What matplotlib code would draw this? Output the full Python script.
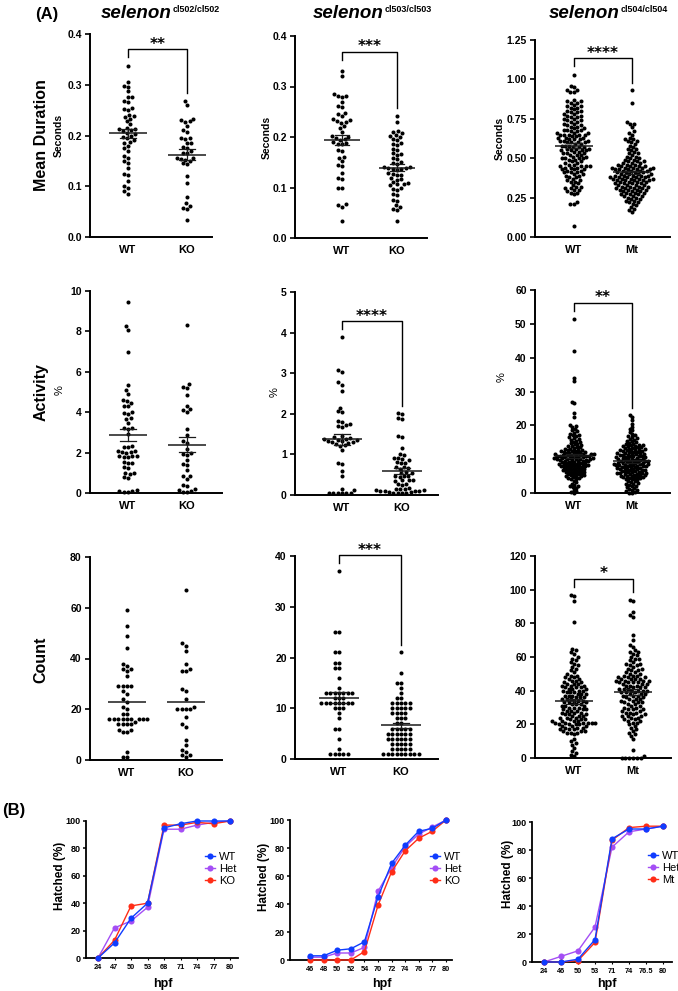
import numpy as np
import matplotlib
matplotlib.use("Agg")
import matplotlib.pyplot as plt
from matplotlib.lines import Line2D

plt.rcParams['font.family'] = ['Liberation Sans', 'DejaVu Sans']

W, H = 678, 991

# ---------------- data (A) ----------------
strains = ['cl502/cl502', 'cl503/cl503', 'cl504/cl504']
row_names = ['Mean Duration', 'Activity', 'Count']
groups_ko = ['WT', 'KO']
groups_mt = ['WT', 'Mt']

# mean duration (seconds)
dur_502_wt = [0.336, 0.305, 0.298, 0.296, 0.287, 0.276, 0.275, 0.268, 0.266, 0.255,
              0.253, 0.250, 0.240, 0.238, 0.236, 0.232, 0.228, 0.222, 0.215, 0.213,
              0.212, 0.210, 0.208, 0.205, 0.203, 0.200, 0.198, 0.195, 0.192, 0.188,
              0.185, 0.180, 0.175, 0.170, 0.160, 0.155, 0.150, 0.145, 0.135, 0.125,
              0.122, 0.110, 0.100, 0.097, 0.090, 0.085]
dur_502_ko = [0.268, 0.260, 0.232, 0.230, 0.228, 0.226, 0.218, 0.210, 0.207, 0.196,
              0.195, 0.193, 0.186, 0.185, 0.178, 0.176, 0.170, 0.166, 0.165, 0.156,
              0.155, 0.154, 0.152, 0.150, 0.145, 0.143, 0.120, 0.107, 0.078, 0.067,
              0.062, 0.058, 0.055, 0.034]
dur_503_wt = [0.331, 0.320, 0.286, 0.282, 0.281, 0.280, 0.270, 0.262, 0.260, 0.248,
              0.245, 0.242, 0.235, 0.233, 0.232, 0.230, 0.228, 0.222, 0.218, 0.210,
              0.202, 0.200, 0.198, 0.196, 0.194, 0.190, 0.188, 0.187, 0.186, 0.175,
              0.172, 0.160, 0.158, 0.152, 0.145, 0.143, 0.128, 0.118, 0.116, 0.100,
              0.099, 0.067, 0.065, 0.062, 0.034]
dur_503_ko = [0.242, 0.230, 0.212, 0.210, 0.208, 0.204, 0.202, 0.200, 0.196, 0.194,
              0.188, 0.186, 0.184, 0.177, 0.175, 0.168, 0.166, 0.165, 0.158, 0.156,
              0.150, 0.148, 0.146, 0.141, 0.140, 0.139, 0.138, 0.137, 0.136, 0.135,
              0.128, 0.127, 0.125, 0.124, 0.118, 0.116, 0.115, 0.110, 0.108, 0.107,
              0.106, 0.104, 0.100, 0.098, 0.096, 0.088, 0.086, 0.076, 0.074, 0.066,
              0.062, 0.057, 0.055, 0.033]
dur_504_wt = [1.03, 0.96, 0.95, 0.93, 0.93, 0.92, 0.92, 0.87, 0.86, 0.86, 0.85, 0.85,
              0.84, 0.83, 0.83, 0.82, 0.82, 0.81, 0.80, 0.80,
              0.79, 0.79, 0.78, 0.78, 0.77, 0.77, 0.76, 0.76, 0.75, 0.75,
              0.74, 0.74, 0.73, 0.73, 0.72, 0.72, 0.71, 0.71, 0.70, 0.70,
              0.69, 0.69, 0.68, 0.68, 0.68, 0.67, 0.67, 0.66, 0.66, 0.66, 0.65, 0.65, 0.65, 0.65, 0.65,
              0.64, 0.64, 0.63, 0.63, 0.63, 0.62, 0.62, 0.62, 0.61, 0.61, 0.61, 0.60, 0.60, 0.60, 0.60,
              0.59, 0.59, 0.58, 0.58, 0.58, 0.57, 0.57, 0.57, 0.56, 0.56, 0.56, 0.55, 0.55, 0.55, 0.55,
              0.54, 0.54, 0.53, 0.53, 0.53, 0.52, 0.52, 0.52, 0.51, 0.51, 0.50, 0.50, 0.50, 0.50,
              0.49, 0.49, 0.48, 0.48, 0.47, 0.47, 0.46, 0.46, 0.45, 0.45, 0.45, 0.45,
              0.44, 0.44, 0.44, 0.43, 0.43, 0.43, 0.42, 0.42, 0.41, 0.41, 0.41, 0.40, 0.40,
              0.39, 0.39, 0.38, 0.38, 0.37, 0.36, 0.36, 0.35, 0.35,
              0.34, 0.33, 0.32, 0.32, 0.31, 0.31, 0.30, 0.30,
              0.29, 0.28, 0.28, 0.27, 0.22, 0.21, 0.21, 0.07]
dur_504_mt = [0.93, 0.85, 0.73, 0.72, 0.72, 0.70, 0.67, 0.66, 0.65,
              0.63, 0.62, 0.62, 0.61, 0.61, 0.60, 0.59, 0.58, 0.57, 0.56, 0.56, 0.55,
              0.54, 0.53, 0.53, 0.52, 0.51, 0.51, 0.50, 0.50,
              0.49, 0.49, 0.48, 0.48, 0.48, 0.47, 0.47, 0.47, 0.46, 0.46, 0.46,
              0.45, 0.45, 0.45, 0.45,
              0.44, 0.44, 0.44, 0.44, 0.44, 0.43, 0.43, 0.43, 0.43, 0.43,
              0.42, 0.42, 0.42, 0.42, 0.41, 0.41, 0.41, 0.41, 0.40, 0.40, 0.40, 0.40,
              0.39, 0.39, 0.39, 0.39, 0.39, 0.38, 0.38, 0.38, 0.38, 0.38,
              0.37, 0.37, 0.37, 0.37, 0.37, 0.36, 0.36, 0.36, 0.36, 0.36,
              0.35, 0.35, 0.35, 0.35,
              0.34, 0.34, 0.34, 0.34, 0.33, 0.33, 0.33, 0.33, 0.32, 0.32, 0.32, 0.32,
              0.31, 0.31, 0.31, 0.31, 0.30, 0.30, 0.30, 0.30,
              0.29, 0.29, 0.29, 0.28, 0.28, 0.28, 0.27, 0.27, 0.27, 0.26, 0.26, 0.26,
              0.25, 0.25, 0.24, 0.24, 0.23, 0.23, 0.22, 0.22, 0.21, 0.20,
              0.19, 0.18, 0.17, 0.16]

# activity (%)
act_502_wt = [9.45, 8.25, 8.05, 7.0, 5.35, 5.1, 4.9, 4.6, 4.55, 4.45, 4.3, 4.3, 4.0, 3.95,
              3.9, 3.7, 3.65, 3.45, 3.2, 3.2, 3.15, 2.9, 2.35, 2.3, 2.3, 2.1, 2.1, 2.05,
              2.05, 2.0, 1.85, 1.85, 1.85, 1.8, 1.8, 1.55, 1.5, 1.5, 1.3, 1.25, 1.0, 1.0,
              0.95, 0.8, 0.75, 0.15, 0.1, 0.1, 0.05, 0.05]
act_502_ko = [8.3, 5.4, 5.25, 5.2, 4.85, 4.3, 4.15, 4.12, 4.0, 3.15, 2.85, 2.55, 2.5, 2.2,
              2.0, 1.95, 1.9, 1.65, 1.45, 1.4, 1.15, 0.85, 0.82, 0.7, 0.4, 0.35, 0.18,
              0.15, 0.1, 0.05, 0.05]
act_503_wt = [3.88, 3.07, 3.02, 2.78, 2.72, 2.57, 2.15, 2.06, 2.05, 1.82, 1.8, 1.75, 1.73,
              1.7, 1.67, 1.45, 1.42, 1.4, 1.38, 1.37, 1.36, 1.35, 1.34, 1.33, 1.3, 1.3,
              1.28, 1.25, 1.22, 1.2, 1.1, 0.8, 0.77, 0.6, 0.47, 0.15, 0.12, 0.06, 0.05,
              0.05, 0.05, 0.04, 0.04]
act_503_ko = [2.01, 1.99, 1.9, 1.87, 1.45, 1.42, 1.15, 1.02, 0.98, 0.92, 0.9, 0.88, 0.87,
              0.82, 0.8, 0.78, 0.7, 0.68, 0.66, 0.65, 0.57, 0.55, 0.53, 0.48, 0.47, 0.46,
              0.45, 0.38, 0.37, 0.36, 0.35, 0.28, 0.27, 0.25, 0.17, 0.16, 0.15, 0.14,
              0.13, 0.12, 0.11, 0.1, 0.1, 0.09, 0.08, 0.07, 0.06, 0.05, 0.05, 0.04]
act_504_wt = [51.5, 42.0, 34.0, 33.0, 27.0, 26.5, 23.5, 22.5,
              20.0, 19.8, 19.5, 19.0, 18.5, 18.2,
              17.8, 17.5, 17.2, 17.0, 16.8, 16.5, 16.2, 16.0, 15.8, 15.5, 15.2, 15.0,
              14.8, 14.6, 14.4, 14.2, 14.0, 13.8, 13.6, 13.5, 13.3, 13.1, 13.0, 12.8,
              12.7, 12.6, 12.5, 12.4, 12.3, 12.2, 12.1, 12.0,
              11.9, 11.8, 11.8, 11.7, 11.6, 11.5, 11.5, 11.4, 11.3, 11.2, 11.2, 11.1,
              11.0, 11.0, 10.9, 10.8, 10.8, 10.7, 10.6, 10.5, 10.5, 10.4, 10.3, 10.3,
              10.2, 10.1, 10.1, 10.0, 10.0, 10.0,
              9.9, 9.8, 9.7, 9.6, 9.5, 9.5, 9.4, 9.3, 9.2, 9.1, 9.0, 9.0, 8.9, 8.8,
              8.7, 8.6, 8.5, 8.5, 8.4, 8.3, 8.2, 8.2, 8.1, 8.0, 8.0,
              7.9, 7.8, 7.7, 7.6, 7.5, 7.4, 7.3, 7.2, 7.1, 7.0, 6.9, 6.8, 6.7, 6.6,
              6.5, 6.4, 6.3, 6.2, 6.1, 6.0,
              5.9, 5.7, 5.6, 5.5, 5.3, 5.2, 5.1, 5.0, 4.9, 4.7, 4.5, 4.4, 4.2, 4.0,
              3.6, 3.2, 2.8, 2.5, 2.2, 2.0, 1.8, 1.5, 1.0, 0.6, 0.3, 0.1]
act_504_mt = [23.0, 22.5, 21.5, 20.5, 19.5, 19.0, 18.5, 18.0, 17.5, 17.0,
              16.8, 16.5, 16.2, 16.0, 15.8, 15.5, 15.3, 15.0, 14.8, 14.6, 14.5, 14.3,
              14.2, 14.1, 14.0,
              13.9, 13.8, 13.6, 13.5, 13.4, 13.2, 13.1, 13.0, 12.9, 12.8, 12.7, 12.6,
              12.5, 12.4, 12.3, 12.2, 12.1, 12.0,
              11.9, 11.8, 11.7, 11.6, 11.5, 11.4, 11.3, 11.2, 11.1, 11.0, 11.0, 10.9,
              10.8, 10.7, 10.6, 10.5, 10.4, 10.3, 10.2, 10.1, 10.0, 10.0,
              9.9, 9.8, 9.7, 9.6, 9.5, 9.5, 9.4, 9.3, 9.2, 9.1, 9.0, 9.0, 8.9, 8.8,
              8.7, 8.6, 8.5, 8.5, 8.4, 8.3, 8.2, 8.2, 8.1, 8.0, 8.0,
              7.9, 7.8, 7.7, 7.6, 7.5, 7.4, 7.3, 7.2, 7.1, 7.0, 7.0, 6.9, 6.8, 6.7,
              6.6, 6.5, 6.4, 6.3, 6.2, 6.1, 6.0, 6.0,
              5.9, 5.8, 5.7, 5.6, 5.5, 5.4, 5.3, 5.2, 5.1, 5.0, 4.9, 4.8, 4.7, 4.6,
              4.5, 4.4, 4.3, 4.1, 4.0,
              3.9, 3.6, 3.4, 3.2, 3.0, 2.8, 2.6, 2.4, 2.2, 2.0,
              1.8, 1.5, 1.2, 1.0, 0.8, 0.5, 0.3, 0.1, 0.0]

# count
cnt_502_wt = [59, 53, 49, 44, 38, 37, 36, 36, 35, 33, 29, 29, 29, 29, 27, 26, 24, 23, 21,
              20, 18, 18, 16, 16, 16, 16, 16, 16, 16, 16, 16, 15, 14, 14, 14, 14, 12, 12,
              11, 11, 3, 1, 1]
cnt_502_ko = [67, 46, 45, 43, 38, 36, 35, 35, 28, 27, 24, 21, 20, 20, 20, 20, 17, 14, 13,
              8, 6, 4, 3, 2, 2, 1]
cnt_503_wt = [37, 25, 25, 21, 21, 19, 19, 18, 18, 16, 14, 13, 13, 13, 13, 13, 13, 13,
              12, 12, 12, 11, 11, 11, 11, 11, 11, 11, 11, 10, 10, 10, 9, 8, 6, 6, 4, 2,
              1, 1, 1, 1, 1]
cnt_503_ko = [21, 17, 15, 15, 14, 13, 12, 12, 11, 11, 11, 11, 11, 10, 10, 10, 10, 10,
              9, 9, 9, 9, 8, 8, 8, 7, 7, 6, 6, 6, 6, 6, 5, 5, 5, 5, 5, 5, 4, 4, 4, 4, 4, 4,
              3, 3, 3, 3, 3, 2, 2, 2, 2, 2, 1, 1, 1, 1, 1, 1, 1, 1, 1]
cnt_504_wt = [97, 96, 93, 81, 65, 64, 63, 62, 60,
              59, 58, 57, 56, 55, 54, 53, 52, 51, 50,
              49, 49, 48, 48, 47, 47, 46, 46, 45, 45, 44, 44, 44, 43, 43, 43, 42, 42, 42,
              41, 41, 41, 40, 40, 40,
              39, 39, 39, 38, 38, 38, 37, 37, 37, 36, 36, 36, 35, 35, 35, 34, 34, 34,
              33, 33, 33, 32, 32, 32, 31, 31, 31, 30, 30, 30,
              29, 29, 29, 28, 28, 28, 27, 27, 27, 26, 26, 26, 25, 25, 25, 24, 24, 24,
              23, 23, 23, 22, 22, 22, 22, 21, 21, 21, 21, 21, 21, 20, 20, 20, 20,
              19, 19, 19, 18, 18, 18, 17, 17, 17, 16, 16, 16, 15, 15, 15,
              14, 11, 10, 9, 8, 6, 4, 3, 2, 1]
cnt_504_mt = [94, 93, 87, 85, 84, 73, 70, 67, 66, 64, 63, 63, 62, 61,
              60, 59, 59, 58, 57, 56, 56, 55, 55, 54, 53, 53, 52, 52, 51, 51, 50, 50,
              49, 49, 49, 48, 48, 48, 47, 47, 47, 47, 46, 46, 46, 46, 45, 45, 45, 45,
              44, 44, 44, 43, 43, 43, 42, 42, 42, 41, 41, 41, 40, 40, 40, 40,
              39, 39, 39, 38, 38, 38, 37, 37, 37, 36, 36, 35, 35, 35, 34, 34, 33, 33, 33,
              32, 32, 31, 31, 30, 30,
              29, 29, 29, 28, 28, 27, 27, 27, 26, 26, 25, 25, 25, 24, 24, 23, 23, 22, 22,
              21, 21, 20,
              19, 18, 17, 16, 15, 14, 13, 11, 5, 1, 0, 0, 0, 0, 0, 0]

# ---------------- data (B) ----------------
hpf_502 = ['24', '47', '50', '53', '68', '71', '74', '77', '80']
hatch_502_wt = [0, 11, 29, 40, 95, 98, 100, 100, 100]
hatch_502_het = [0, 22, 27, 37, 94, 94, 97, 99, 100]
hatch_502_ko = [0, 13, 38, 40, 97, 97, 99, 98, 100]

hpf_503 = ['46', '48', '50', '52', '54', '70', '72', '74', '76', '77', '80']
hatch_503_wt = [3, 3, 7, 8, 13, 45, 69, 82, 92, 94, 100]
hatch_503_het = [2, 2, 5, 5, 9, 49, 66, 81, 90, 95, 100]
hatch_503_ko = [0, 0, 0, 0, 6, 39, 63, 78, 87, 92, 100]

hpf_504 = ['24', '46', '50', '53', '71', '74', '76.5', '80']
hatch_504_wt = [0, 0, 2, 16, 88, 95, 95, 97]
hatch_504_het = [0, 4, 8, 25, 82, 93, 95, 97]
hatch_504_mt = [0, 0, 1, 14, 87, 96, 97, 97]

# ---------------- helpers ----------------
fig = plt.figure(figsize=(W / 100, H / 100), dpi=100)


def add_px_axes(l, t, r, b):
    return fig.add_axes([l / W, 1 - b / H, (r - l) / W, (b - t) / H])


def swarm(ypix, d):
    n = len(ypix)
    order = np.argsort(ypix, kind='stable')
    xs = np.zeros(n)
    done = []
    for i in order:
        y = ypix[i]
        near = [(xs[j], ypix[j]) for j in done if abs(ypix[j] - y) < d]
        cands = [0.0]
        for xj, yj in near:
            dx = np.sqrt(d * d - (yj - y) ** 2)
            cands.extend([xj + dx, xj - dx])
        cands.sort(key=lambda c: (abs(c), c))
        for c in cands:
            if all((c - xj) ** 2 + (y - yj) ** 2 >= d * d - 1e-3 for xj, yj in near):
                xs[i] = c
                break
        done.append(i)
    return xs


def style_axes(ax, lw=1.3):
    for s in ['top', 'right']:
        ax.spines[s].set_visible(False)
    for s in ['left', 'bottom']:
        ax.spines[s].set_linewidth(lw)
    ax.patch.set_alpha(0)


def fig_text(x, y, s, **kw):
    fig.text(x / W, 1 - y / H, s, **kw)


# pixel layout of A panels: left, top, right, bottom, x of group 1, x of group 2
A_BOX = {
    (0, 0): (90, 34, 212, 237, 128, 187),
    (0, 1): (295, 36, 427, 238, 342, 397),
    (0, 2): (535, 40, 670, 237, 574, 632),
    (1, 0): (90, 291, 222, 493, 128, 187),
    (1, 1): (295, 292, 438, 495, 342, 402),
    (1, 2): (535, 290, 670, 493, 574, 632),
    (2, 0): (90, 557, 222, 760, 127, 186),
    (2, 1): (295, 556, 438, 759, 339, 401),
    (2, 2): (535, 556, 671, 758, 574, 633),
}

# row, col, series, group names, ymax, tick step, decimals, stars, bracket top, dot spacing, sem
A_PANELS = [
    (0, 0, [dur_502_wt, dur_502_ko], groups_ko, 0.4, 0.1, 1, '**', 0.370, 4.4, True),
    (0, 1, [dur_503_wt, dur_503_ko], groups_ko, 0.4, 0.1, 1, '***', 0.368, 4.4, True),
    (0, 2, [dur_504_wt, dur_504_mt], groups_mt, 1.25, 0.25, 2, '****', 1.134, 3.7, True),
    (1, 0, [act_502_wt, act_502_ko], groups_ko, 10, 2, 0, None, None, 4.4, True),
    (1, 1, [act_503_wt, act_503_ko], groups_ko, 5, 1, 0, '****', 4.28, 4.4, True),
    (1, 2, [act_504_wt, act_504_mt], groups_mt, 60, 10, 0, '**', 56.3, 3.0, True),
    (2, 0, [cnt_502_wt, cnt_502_ko], groups_ko, 80, 20, 0, None, None, 4.4, False),
    (2, 1, [cnt_503_wt, cnt_503_ko], groups_ko, 40, 10, 0, '***', 40.1, 4.4, True),
    (2, 2, [cnt_504_wt, cnt_504_mt], groups_mt, 120, 20, 0, '*', 106.5, 3.8, True),
]

for row, col, series, names, ymax, step, dec, stars, btop, d, sem in A_PANELS:
    l, t, r, b, xw, xk = A_BOX[(row, col)]
    u = xk - xw
    ax = add_px_axes(l, t, r, b)
    style_axes(ax, 1.4)
    ax.set_xlim(1 - (xw - l) / u, 2 + (r - xk) / u)
    ax.set_ylim(0, ymax)
    ppu = (b - t) / ymax  # pixels per data unit
    for i, vals in enumerate(series):
        v = np.asarray(vals, float)
        c = i + 1
        off = swarm(v * ppu, d)
        ax.scatter(c + off / u, v, s=8.5, c='black', linewidths=0,
                   clip_on=False, zorder=2)
        m = v.mean()
        ax.plot([c - 0.33, c + 0.33], [m, m], color='#1a1a1a', lw=1.1,
                zorder=3, solid_capstyle='butt')
        if sem:
            se = v.std(ddof=1) / np.sqrt(len(v))
            ax.plot([c, c], [m - se, m + se], color='#1a1a1a', lw=0.9, zorder=3)
            for yy in (m - se, m + se):
                ax.plot([c - 0.13, c + 0.13], [yy, yy], color='#1a1a1a',
                        lw=0.9, zorder=3)
    if stars:
        second_max = max(series[1])
        wt_leg = btop - 8 / ppu
        k_leg = second_max + 7.5 / ppu
        ax.plot([1, 1, 2, 2], [wt_leg, btop, btop, k_leg], color='black',
                lw=1.0, clip_on=False, zorder=3)
        ax.annotate(stars, xy=(1.5, btop), xytext=(0, 0.5),
                    textcoords='offset points', ha='center', va='baseline',
                    fontsize=11, fontweight='bold', family='DejaVu Sans',
                    annotation_clip=False)
    ticks = np.arange(0, ymax + step / 2, step)
    ax.set_yticks(ticks)
    ax.set_yticklabels([f'{tv:.{dec}f}' for tv in ticks], fontsize=7.5,
                       fontweight='bold')
    ax.set_xticks([1, 2])
    ax.set_xticklabels(names, fontsize=8, fontweight='bold')
    ax.tick_params(axis='y', direction='out', length=3.5, width=1.2, pad=2.5)
    ax.tick_params(axis='x', length=0, pad=6)

# A texts
fig_text(35, 15, '(A)', fontsize=12, fontweight='bold', ha='left', va='center')
for split_x, strain in zip([172, 384, 620], strains):
    fig_text(split_x, 18, 'selenon', fontsize=13.5, fontweight='bold',
             fontstyle='italic', ha='right', va='baseline')
    fig_text(split_x + 1, 12, strain, fontsize=6.5, fontweight='bold',
             ha='left', va='baseline')

for y, name in zip([135, 392, 660], row_names):
    fig_text(41, y, name, fontsize=11.5, fontweight='bold', rotation=90,
             ha='center', va='center')

for x, y in [(59, 135), (267, 137), (500, 138)]:
    fig_text(x, y, 'Seconds', fontsize=7.5, fontweight='bold', rotation=90,
             ha='center', va='center')
for x, y in [(60, 390), (275, 392), (502, 377)]:
    fig_text(x, y, '%', fontsize=8, rotation=90, ha='center', va='center')

# ---------------- B panels ----------------
C_WT = '#0f3cff'
C_HET = '#a44ef5'
C_KO = '#ff2d17'

B_BOX = [(86, 821, 238, 958, 98, 230), (290, 820, 452, 960, 310, 446),
         (532, 822, 672, 962, 544, 663)]
B_DATA = [
    (hpf_502, hatch_502_wt, hatch_502_het, hatch_502_ko, 'KO'),
    (hpf_503, hatch_503_wt, hatch_503_het, hatch_503_ko, 'KO'),
    (hpf_504, hatch_504_wt, hatch_504_het, hatch_504_mt, 'Mt'),
]
B_LEG = [(205, 869), (430, 869), (648, 868)]
B_YLAB = [(60, 876), (264, 877), (508, 874)]
B_XLAB = [(163, 984), (382, 984), (607, 984)]

for (l, t, r, b, x0, x1), (hpf, wt, het, ko, kname), leg, yl, xl in zip(
        B_BOX, B_DATA, B_LEG, B_YLAB, B_XLAB):
    ax = add_px_axes(l, t, r, b)
    style_axes(ax, 1.3)
    n = len(hpf)
    u = (x1 - x0) / (n - 1)
    ax.set_xlim(-(x0 - l) / u, (n - 1) + (r - x1) / u)
    ax.set_ylim(0, 100)
    xs = np.arange(n)
    kw = dict(marker='o', ms=4.4, lw=1.0, clip_on=False, markeredgewidth=0)
    l_het, = ax.plot(xs, het, color=C_HET, zorder=2, **kw)
    l_ko, = ax.plot(xs, ko, color=C_KO, zorder=3, **kw)
    l_wt, = ax.plot(xs, wt, color=C_WT, zorder=4, **kw)
    ax.set_yticks(range(0, 101, 20))
    ax.set_yticklabels([str(v) for v in range(0, 101, 20)], fontsize=6.5,
                       fontweight='bold')
    ax.set_xticks(xs)
    ax.set_xticklabels(hpf, fontsize=5.3, fontweight='bold')
    ax.tick_params(axis='y', direction='out', length=2.5, width=1.1, pad=1.2)
    ax.tick_params(axis='x', direction='out', length=1.5, width=0.8, pad=3)
    handles = [Line2D([], [], color=C_WT, marker='o', ms=4.4, lw=1.0, markeredgewidth=0),
               Line2D([], [], color=C_HET, marker='o', ms=4.4, lw=1.0, markeredgewidth=0),
               Line2D([], [], color=C_KO, marker='o', ms=4.4, lw=1.0, markeredgewidth=0)]
    ax.legend(handles, ['WT', 'Het', kname], loc='center left',
              bbox_to_anchor=(leg[0] / W, 1 - leg[1] / H),
              bbox_transform=fig.transFigure, frameon=False, fontsize=8,
              handlelength=0.9, handletextpad=0.4, labelspacing=0.15,
              borderpad=0, borderaxespad=0)
    fig_text(yl[0], yl[1], 'Hatched (%)', fontsize=8.5, fontweight='bold',
             rotation=90, ha='center', va='center')
    fig_text(xl[0], xl[1], 'hpf', fontsize=9, fontweight='bold',
             ha='center', va='center')

fig_text(2, 810, '(B)', fontsize=12, fontweight='bold', ha='left', va='center')

fig.savefig('out.png', dpi=100)
